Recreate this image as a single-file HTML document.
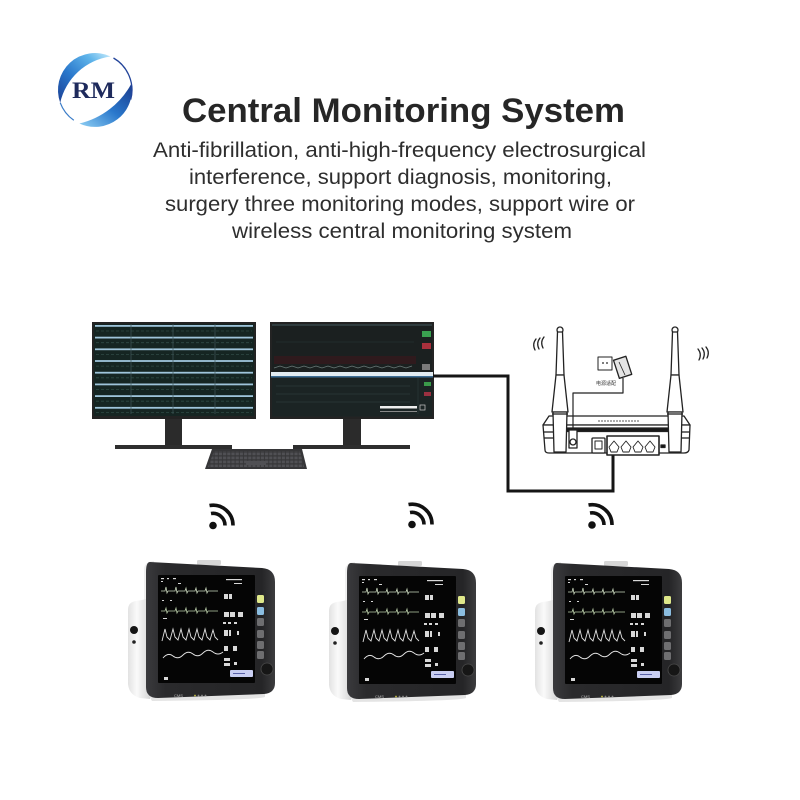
<!DOCTYPE html>
<html><head><meta charset="utf-8"><style>
html,body{margin:0;padding:0;background:#fff;}
svg{display:block;}
</style></head><body>
<svg width="800" height="800" viewBox="0 0 800 800" xmlns="http://www.w3.org/2000/svg">
<defs>
 <linearGradient id="lg1" x1="0" y1="1" x2="1" y2="0">
  <stop offset="0" stop-color="#1b3f94"/><stop offset="0.4" stop-color="#2a78cc"/><stop offset="0.75" stop-color="#5fb4ea"/><stop offset="1" stop-color="#c8ecfc"/>
 </linearGradient>
 <linearGradient id="lg2" x1="1" y1="0" x2="0" y2="1">
  <stop offset="0" stop-color="#1a3b8c"/><stop offset="0.5" stop-color="#2a78cc"/><stop offset="1" stop-color="#8fd0f4"/>
 </linearGradient>
 <linearGradient id="bez" x1="0" y1="0" x2="1" y2="0">
  <stop offset="0" stop-color="#3a3a3d"/><stop offset="0.15" stop-color="#2a2a2c"/><stop offset="0.9" stop-color="#252527"/><stop offset="1" stop-color="#3c3c3e"/>
 </linearGradient>
 <linearGradient id="side" x1="0" y1="0" x2="1" y2="0">
  <stop offset="0" stop-color="#e2e2e2"/><stop offset="0.4" stop-color="#fafafa"/><stop offset="1" stop-color="#d6d6d6"/>
 </linearGradient>
 <pattern id="keys" width="4.2" height="4" patternUnits="userSpaceOnUse">
  <rect x="0.4" y="0.5" width="3.2" height="2.8" fill="#505054"/>
 </pattern>
</defs>

<!-- Logo -->
<path d="M60.2,102.7 A37,37 0 0,1 110.6,56.5 A60,60 0 0,0 60.2,102.7 Z" fill="url(#lg1)"/>
<path d="M131.4,83.6 A37,37 0 0,1 79.4,123.5 A80,80 0 0,0 131.4,83.6 Z" fill="url(#lg2)"/>
<path d="M113.5,58 A37,37 0 0,1 130.7,99.6" fill="none" stroke="#23449a" stroke-width="1.3"/>
<path d="M60.2,102.7 A37,37 0 0,0 73.8,120.3" fill="none" stroke="#3a7cc8" stroke-width="1.2"/>
<text x="93.5" y="98" text-anchor="middle" font-family="Liberation Serif, serif" font-weight="bold" font-size="23" fill="#1e2a5c" textLength="43" lengthAdjust="spacingAndGlyphs">RM</text>

<!-- Title -->
<text x="403.5" y="122" text-anchor="middle" font-family="Liberation Sans, sans-serif" font-weight="bold" font-size="34" fill="#262626" textLength="443" lengthAdjust="spacingAndGlyphs">Central Monitoring System</text>
<g font-family="Liberation Sans, sans-serif" font-size="21.5" fill="#2e2e2e" text-anchor="middle">
 <text x="399.5" y="157" textLength="493" lengthAdjust="spacingAndGlyphs">Anti-fibrillation, anti-high-frequency electrosurgical</text>
 <text x="400.5" y="184" textLength="423" lengthAdjust="spacingAndGlyphs">interference, support diagnosis, monitoring,</text>
 <text x="400" y="211" textLength="470" lengthAdjust="spacingAndGlyphs">surgery three monitoring modes, support wire or</text>
 <text x="402" y="238" textLength="340" lengthAdjust="spacingAndGlyphs">wireless central monitoring system</text>
</g>

<!-- Left computer monitor -->
<rect x="165" y="416" width="17" height="30" fill="#2b2b2b"/>
<rect x="115" y="445" width="117" height="4" fill="#2e2e2e"/>
<rect x="92" y="322" width="164" height="97" fill="#232323"/>
<rect x="94" y="324" width="160" height="92" fill="#152522"/>
<g>
 <rect x="95" y="325" width="158" height="1.8" fill="#9ec4da"/>
 <rect x="95" y="336.7" width="158" height="1.8" fill="#9ec4da"/>
 <rect x="95" y="348.4" width="158" height="1.8" fill="#9ec4da"/>
 <rect x="95" y="360.1" width="158" height="1.8" fill="#9ec4da"/>
 <rect x="95" y="371.8" width="158" height="1.8" fill="#9ec4da"/>
 <rect x="95" y="383.5" width="158" height="1.8" fill="#9ec4da"/>
 <rect x="95" y="395.2" width="158" height="1.8" fill="#9ec4da"/>
 <rect x="95" y="406.9" width="158" height="1.8" fill="#9ec4da"/>
 <g stroke="#2e4a44" stroke-width="0.8" stroke-dasharray="3 2">
  <line x1="96" y1="331" x2="252" y2="331"/><line x1="96" y1="342.7" x2="252" y2="342.7"/>
  <line x1="96" y1="354.4" x2="252" y2="354.4"/><line x1="96" y1="366.1" x2="252" y2="366.1"/>
  <line x1="96" y1="377.8" x2="252" y2="377.8"/><line x1="96" y1="389.5" x2="252" y2="389.5"/>
  <line x1="96" y1="401.2" x2="252" y2="401.2"/><line x1="96" y1="412.5" x2="252" y2="412.5"/>
 </g>
 <g stroke="#40585a" stroke-width="0.7">
  <line x1="131" y1="324" x2="131" y2="414"/><line x1="173" y1="324" x2="173" y2="414"/><line x1="215" y1="324" x2="215" y2="414"/>
 </g>
</g>

<!-- Right computer monitor -->
<rect x="343" y="416" width="18" height="30" fill="#2b2b2b"/>
<rect x="293" y="445" width="117" height="4" fill="#2e2e2e"/>
<rect x="270" y="322" width="164" height="97" fill="#232323"/>
<rect x="272" y="324" width="160" height="48" fill="#1b2020"/>
<rect x="272" y="324" width="160" height="2" fill="#2f3c3e"/>
<rect x="274" y="356" width="142" height="8" fill="#2f1a1d"/>
<polyline points="274,368 280,366 286,368 292,366 298,368 304,366 310,368 316,366 322,368 328,366 334,368 340,366 346,368 352,366 358,368 364,366 370,368 376,366 382,368 388,366 394,368 400,366 406,368 412,366" fill="none" stroke="#6b7a78" stroke-width="0.8"/>
<line x1="276" y1="342" x2="414" y2="342" stroke="#263030" stroke-width="0.7"/>
<rect x="422" y="331" width="9" height="6" fill="#3aa050"/>
<rect x="422" y="343" width="9" height="6" fill="#a8303c"/>
<rect x="422" y="364" width="8" height="6" fill="#7a7a7a"/>
<rect x="271" y="372" width="162" height="4" fill="#e2ecf2"/>
<rect x="271" y="376" width="162" height="1.5" fill="#3d6e96"/>
<rect x="272" y="377.5" width="160" height="39" fill="#1b2424"/>
<g stroke="#2c3a3a" stroke-width="0.7">
 <line x1="276" y1="386" x2="410" y2="386"/><line x1="276" y1="394" x2="410" y2="394"/><line x1="276" y1="402" x2="410" y2="402"/>
 <line x1="418" y1="378" x2="418" y2="414"/>
</g>
<rect x="424" y="382" width="7" height="4" fill="#3a9a4a"/>
<rect x="424" y="392" width="7" height="4" fill="#9a3040"/>
<rect x="380" y="406" width="37" height="2.5" fill="#eeeeee"/>
<rect x="380" y="411" width="37" height="1" fill="#888"/>
<rect x="420" y="405" width="5" height="5" fill="none" stroke="#ccc" stroke-width="0.7"/>

<!-- Keyboard -->
<polygon points="212,449 302,449 307,469 205,469" fill="#363638"/>
<polygon points="214,451 300,451 304,467 208,467" fill="url(#keys)"/>
<rect x="246" y="461" width="20" height="4" fill="#505054"/>

<!-- Cable -->
<polyline points="433,376 508,376 508,491 613,491 613,453" fill="none" stroke="#151515" stroke-width="3"/>

<!-- Router -->
<g stroke="#222" stroke-width="1.3" fill="#fff" stroke-linejoin="round">
 <polygon points="549,416 684,416 690,425 543,425"/>
 <path d="M543,425 L690,425 L689,450 Q688,453 684,453 L549,453 Q545,453 545,450 Z"/>
 <line x1="543" y1="432" x2="553" y2="432"/><line x1="680" y1="432" x2="690" y2="432"/>
 <line x1="544" y1="438" x2="553" y2="438"/><line x1="680" y1="438" x2="689" y2="438"/>
 <rect x="565" y="428" width="106" height="3.5" fill="#1a1a1a"/>
 <line x1="598" y1="421" x2="640" y2="421" stroke-width="0.8" stroke-dasharray="2 1"/>
 <rect x="592" y="438" width="13" height="15" rx="1"/>
 <rect x="595" y="441" width="7" height="8" stroke-width="1"/>
 <rect x="607" y="436" width="52" height="19" stroke-width="1.6"/>
 <path d="M609,447 L614,441 L619,447 L617,452 L611,452 Z" stroke-width="0.9"/>
 <path d="M621,447 L626,441 L631,447 L629,452 L623,452 Z" stroke-width="0.9"/>
 <path d="M633,447 L638,441 L643,447 L641,452 L635,452 Z" stroke-width="0.9"/>
 <path d="M645,447 L650,441 L655,447 L653,452 L647,452 Z" stroke-width="0.9"/>
 <rect x="569" y="430" width="8" height="18"/>
 <circle cx="573" cy="442" r="3"/>
 <rect x="661" y="445" width="4" height="2.5" fill="#111"/>
 <!-- antennas -->
 <ellipse cx="560" cy="330" rx="3" ry="3"/>
 <polygon points="557.5,332 562.5,332 564,375 556,375"/>
 <polygon points="556,375 564,375 568,412 552,412"/>
 <polygon points="553,412 567,412 566,452 554,452"/>
 <line x1="552" y1="414" x2="568" y2="414"/>
 <ellipse cx="675" cy="330" rx="3" ry="3"/>
 <polygon points="672.5,332 677.5,332 679,375 671,375"/>
 <polygon points="671,375 679,375 683,412 667,412"/>
 <polygon points="668,412 682,412 681,452 669,452"/>
 <line x1="667" y1="414" x2="683" y2="414"/>
 <!-- power -->
 <polyline points="623,378 623,393 573,393 573,430" fill="none" stroke-width="1.2"/>
 <rect x="598" y="357" width="14" height="13" stroke-width="1"/>
 <rect x="616" y="358" width="13" height="19" fill="#e4e4e4" transform="rotate(-18 622 367)"/>
 <line x1="619" y1="362" x2="625" y2="375" stroke-width="0.8"/>
</g>
<circle cx="603" cy="363" r="0.9" fill="#222"/><circle cx="607" cy="363" r="0.9" fill="#222"/>
<text x="596" y="385" font-family="Liberation Sans, Noto Sans CJK SC, sans-serif" font-size="5" fill="#333">电源适配</text>
<g fill="none" stroke="#222" stroke-width="1.3" stroke-linecap="round">
 <path d="M536,339 Q532,344 535,350"/><path d="M540,338 Q536,343 539,349"/><path d="M544,337 Q540,342 543,348"/>
 <path d="M698,349 Q702,354 699,360"/><path d="M702,348 Q706,353 703,359"/><path d="M706,347 Q710,352 707,358"/>
</g>

<!-- Wifi icons -->
<g fill="none" stroke="#111" stroke-width="3.6" stroke-linecap="butt">
 <path d="M211,513.5 A12,12 0 0,1 225,525.5"/><path d="M209.5,505.5 A20,20 0 0,1 233,525.5"/>
 <path d="M410,512.5 A12,12 0 0,1 424,524.5"/><path d="M408.5,504.5 A20,20 0 0,1 432,524.5"/>
 <path d="M590,513 A12,12 0 0,1 604,525"/><path d="M588.5,505 A20,20 0 0,1 612,525"/>
</g>
<circle cx="213" cy="525.5" r="3.8" fill="#111"/>
<circle cx="412" cy="524.5" r="3.8" fill="#111"/>
<circle cx="592" cy="525" r="3.8" fill="#111"/>

<!-- Patient monitor 1 -->
<g transform="translate(128,560)">
 <path d="M16,8 Q18,1 26,1 L26,40 L16,40 Z" fill="#efefef"/>
 <path d="M14,40 L22,38 L22,139 L12,138 Q1,135 0,124 L0,50 Q0,42 8,41 Z" fill="url(#side)"/>
 <path d="M20,134 L137,132 L137,137 Q130,140 24,141 Z" fill="#e4e4e4"/>
 <rect x="69" y="0" width="24" height="5" rx="1.5" fill="#d6d6d6"/>
 <path d="M22,2 L134,8 Q147,9 147,22 L147,123 Q147,133 136,134 L30,138 Q18,138 18,127 L18,12 Q18,2 22,2 Z" fill="url(#bez)"/>
 <rect x="30" y="15" width="97" height="108" rx="1" fill="#050505"/>
 <g fill="#d8d8d8">
  <rect x="33" y="18" width="3" height="1.2"/><rect x="39" y="18" width="2" height="1.2"/><rect x="45" y="18" width="3" height="1.2"/>
  <rect x="33" y="21" width="2" height="1"/><rect x="50" y="23" width="3" height="1"/>
  <rect x="98" y="19" width="16" height="1.2"/><rect x="106" y="23" width="8" height="1"/>
  <rect x="96" y="34" width="4" height="5"/><rect x="101" y="34" width="3" height="5"/>
  <rect x="34" y="40" width="2" height="1"/><rect x="42" y="40" width="2" height="1"/>
  <rect x="96" y="52" width="5" height="5"/><rect x="102" y="52" width="5" height="5"/><rect x="110" y="52" width="5" height="5"/>
  <rect x="95" y="62" width="3" height="2"/><rect x="100" y="62" width="3" height="2"/><rect x="106" y="62" width="3" height="2"/>
  <rect x="96" y="70" width="4" height="6"/><rect x="101" y="70" width="2" height="6"/><rect x="109" y="71" width="2" height="4"/>
  <rect x="96" y="86" width="4" height="5"/><rect x="105" y="86" width="4" height="5"/>
  <rect x="96" y="98" width="6" height="3"/><rect x="96" y="103" width="6" height="3"/><rect x="106" y="102" width="3" height="3"/>
  <rect x="35" y="58" width="4" height="1"/><rect x="36" y="117" width="4" height="3"/>
 </g>
 <g fill="none" stroke-width="0.8">
  <path d="M33,31 L37,31 L38,27 L39,33 L40,31 L47,31 L48,27 L49,33 L50,31 L57,31 L58,28 L59,33 L60,31 L67,31 L68,28 L69,33 L70,31 L77,31 L78,28 L79,33 L80,31 L90,31" stroke="#c8d6bc"/>
  <path d="M33,51 L37,51 L38,48 L39,53 L40,51 L47,51 L48,48 L49,53 L50,51 L57,51 L58,48 L59,53 L60,51 L67,51 L68,48 L69,53 L70,51 L77,51 L78,48 L79,53 L80,51 L90,51" stroke="#b8cca8"/>
  <path d="M34,81 L37,69 L39,77 L42,80 L45,69 L47,77 L50,80 L53,69 L55,77 L58,80 L61,69 L63,77 L66,80 L69,69 L71,77 L74,80 L77,69 L79,77 L82,80 L85,70 L87,77 L90,80" stroke="#e0e0e0" stroke-width="0.9"/>
  <path d="M35,98 Q40,92 45,96 T55,95 T65,94 T75,93 T85,92 T95,92" stroke="#e6e6e6" stroke-width="0.9"/>
 </g>
 <rect x="102" y="110" width="23" height="7" rx="1" fill="#c9cef2"/>
 <rect x="105" y="113" width="12" height="1" fill="#5a62a8"/>
 <rect x="129" y="35" width="7" height="8" rx="1.5" fill="#dfe88a"/>
 <rect x="129" y="47" width="7" height="8" rx="1.5" fill="#8bbde0"/>
 <rect x="129" y="58" width="7" height="8" rx="1.5" fill="#6e6e70"/>
 <rect x="129" y="70" width="7" height="8" rx="1.5" fill="#6e6e70"/>
 <rect x="129" y="81" width="7" height="8" rx="1.5" fill="#6e6e70"/>
 <rect x="129" y="91" width="7" height="8" rx="1.5" fill="#6e6e70"/>
 <circle cx="139" cy="109" r="6" fill="#161616" stroke="#4a4a4a" stroke-width="0.8"/>
 <circle cx="6" cy="70" r="4" fill="#151515"/>
 <circle cx="6" cy="82" r="1.8" fill="#222"/>
 <text x="46" y="137" font-family="Liberation Sans, sans-serif" font-size="4" fill="#bbb">CMS</text>
 <circle cx="67" cy="135.5" r="0.9" fill="#c8c040"/><circle cx="70.5" cy="135.5" r="0.9" fill="#888"/><circle cx="74" cy="135.5" r="0.9" fill="#888"/><circle cx="77.5" cy="135.5" r="0.9" fill="#888"/>
</g>

<!-- Patient monitor 2 -->
<g transform="translate(329,561)">
 <path d="M16,8 Q18,1 26,1 L26,40 L16,40 Z" fill="#efefef"/>
 <path d="M14,40 L22,38 L22,139 L12,138 Q1,135 0,124 L0,50 Q0,42 8,41 Z" fill="url(#side)"/>
 <path d="M20,134 L137,132 L137,137 Q130,140 24,141 Z" fill="#e4e4e4"/>
 <rect x="69" y="0" width="24" height="5" rx="1.5" fill="#d6d6d6"/>
 <path d="M22,2 L134,8 Q147,9 147,22 L147,123 Q147,133 136,134 L30,138 Q18,138 18,127 L18,12 Q18,2 22,2 Z" fill="url(#bez)"/>
 <rect x="30" y="15" width="97" height="108" rx="1" fill="#050505"/>
 <g fill="#d8d8d8">
  <rect x="33" y="18" width="3" height="1.2"/><rect x="39" y="18" width="2" height="1.2"/><rect x="45" y="18" width="3" height="1.2"/>
  <rect x="33" y="21" width="2" height="1"/><rect x="50" y="23" width="3" height="1"/>
  <rect x="98" y="19" width="16" height="1.2"/><rect x="106" y="23" width="8" height="1"/>
  <rect x="96" y="34" width="4" height="5"/><rect x="101" y="34" width="3" height="5"/>
  <rect x="34" y="40" width="2" height="1"/><rect x="42" y="40" width="2" height="1"/>
  <rect x="96" y="52" width="5" height="5"/><rect x="102" y="52" width="5" height="5"/><rect x="110" y="52" width="5" height="5"/>
  <rect x="95" y="62" width="3" height="2"/><rect x="100" y="62" width="3" height="2"/><rect x="106" y="62" width="3" height="2"/>
  <rect x="96" y="70" width="4" height="6"/><rect x="101" y="70" width="2" height="6"/><rect x="109" y="71" width="2" height="4"/>
  <rect x="96" y="86" width="4" height="5"/><rect x="105" y="86" width="4" height="5"/>
  <rect x="96" y="98" width="6" height="3"/><rect x="96" y="103" width="6" height="3"/><rect x="106" y="102" width="3" height="3"/>
  <rect x="35" y="58" width="4" height="1"/><rect x="36" y="117" width="4" height="3"/>
 </g>
 <g fill="none" stroke-width="0.8">
  <path d="M33,31 L37,31 L38,27 L39,33 L40,31 L47,31 L48,27 L49,33 L50,31 L57,31 L58,28 L59,33 L60,31 L67,31 L68,28 L69,33 L70,31 L77,31 L78,28 L79,33 L80,31 L90,31" stroke="#c8d6bc"/>
  <path d="M33,51 L37,51 L38,48 L39,53 L40,51 L47,51 L48,48 L49,53 L50,51 L57,51 L58,48 L59,53 L60,51 L67,51 L68,48 L69,53 L70,51 L77,51 L78,48 L79,53 L80,51 L90,51" stroke="#b8cca8"/>
  <path d="M34,81 L37,69 L39,77 L42,80 L45,69 L47,77 L50,80 L53,69 L55,77 L58,80 L61,69 L63,77 L66,80 L69,69 L71,77 L74,80 L77,69 L79,77 L82,80 L85,70 L87,77 L90,80" stroke="#e0e0e0" stroke-width="0.9"/>
  <path d="M35,98 Q40,92 45,96 T55,95 T65,94 T75,93 T85,92 T95,92" stroke="#e6e6e6" stroke-width="0.9"/>
 </g>
 <rect x="102" y="110" width="23" height="7" rx="1" fill="#c9cef2"/>
 <rect x="105" y="113" width="12" height="1" fill="#5a62a8"/>
 <rect x="129" y="35" width="7" height="8" rx="1.5" fill="#dfe88a"/>
 <rect x="129" y="47" width="7" height="8" rx="1.5" fill="#8bbde0"/>
 <rect x="129" y="58" width="7" height="8" rx="1.5" fill="#6e6e70"/>
 <rect x="129" y="70" width="7" height="8" rx="1.5" fill="#6e6e70"/>
 <rect x="129" y="81" width="7" height="8" rx="1.5" fill="#6e6e70"/>
 <rect x="129" y="91" width="7" height="8" rx="1.5" fill="#6e6e70"/>
 <circle cx="139" cy="109" r="6" fill="#161616" stroke="#4a4a4a" stroke-width="0.8"/>
 <circle cx="6" cy="70" r="4" fill="#151515"/>
 <circle cx="6" cy="82" r="1.8" fill="#222"/>
 <text x="46" y="137" font-family="Liberation Sans, sans-serif" font-size="4" fill="#bbb">CMS</text>
 <circle cx="67" cy="135.5" r="0.9" fill="#c8c040"/><circle cx="70.5" cy="135.5" r="0.9" fill="#888"/><circle cx="74" cy="135.5" r="0.9" fill="#888"/><circle cx="77.5" cy="135.5" r="0.9" fill="#888"/>
</g>

<!-- Patient monitor 3 -->
<g transform="translate(535,561)">
 <path d="M16,8 Q18,1 26,1 L26,40 L16,40 Z" fill="#efefef"/>
 <path d="M14,40 L22,38 L22,139 L12,138 Q1,135 0,124 L0,50 Q0,42 8,41 Z" fill="url(#side)"/>
 <path d="M20,134 L137,132 L137,137 Q130,140 24,141 Z" fill="#e4e4e4"/>
 <rect x="69" y="0" width="24" height="5" rx="1.5" fill="#d6d6d6"/>
 <path d="M22,2 L134,8 Q147,9 147,22 L147,123 Q147,133 136,134 L30,138 Q18,138 18,127 L18,12 Q18,2 22,2 Z" fill="url(#bez)"/>
 <rect x="30" y="15" width="97" height="108" rx="1" fill="#050505"/>
 <g fill="#d8d8d8">
  <rect x="33" y="18" width="3" height="1.2"/><rect x="39" y="18" width="2" height="1.2"/><rect x="45" y="18" width="3" height="1.2"/>
  <rect x="33" y="21" width="2" height="1"/><rect x="50" y="23" width="3" height="1"/>
  <rect x="98" y="19" width="16" height="1.2"/><rect x="106" y="23" width="8" height="1"/>
  <rect x="96" y="34" width="4" height="5"/><rect x="101" y="34" width="3" height="5"/>
  <rect x="34" y="40" width="2" height="1"/><rect x="42" y="40" width="2" height="1"/>
  <rect x="96" y="52" width="5" height="5"/><rect x="102" y="52" width="5" height="5"/><rect x="110" y="52" width="5" height="5"/>
  <rect x="95" y="62" width="3" height="2"/><rect x="100" y="62" width="3" height="2"/><rect x="106" y="62" width="3" height="2"/>
  <rect x="96" y="70" width="4" height="6"/><rect x="101" y="70" width="2" height="6"/><rect x="109" y="71" width="2" height="4"/>
  <rect x="96" y="86" width="4" height="5"/><rect x="105" y="86" width="4" height="5"/>
  <rect x="96" y="98" width="6" height="3"/><rect x="96" y="103" width="6" height="3"/><rect x="106" y="102" width="3" height="3"/>
  <rect x="35" y="58" width="4" height="1"/><rect x="36" y="117" width="4" height="3"/>
 </g>
 <g fill="none" stroke-width="0.8">
  <path d="M33,31 L37,31 L38,27 L39,33 L40,31 L47,31 L48,27 L49,33 L50,31 L57,31 L58,28 L59,33 L60,31 L67,31 L68,28 L69,33 L70,31 L77,31 L78,28 L79,33 L80,31 L90,31" stroke="#c8d6bc"/>
  <path d="M33,51 L37,51 L38,48 L39,53 L40,51 L47,51 L48,48 L49,53 L50,51 L57,51 L58,48 L59,53 L60,51 L67,51 L68,48 L69,53 L70,51 L77,51 L78,48 L79,53 L80,51 L90,51" stroke="#b8cca8"/>
  <path d="M34,81 L37,69 L39,77 L42,80 L45,69 L47,77 L50,80 L53,69 L55,77 L58,80 L61,69 L63,77 L66,80 L69,69 L71,77 L74,80 L77,69 L79,77 L82,80 L85,70 L87,77 L90,80" stroke="#e0e0e0" stroke-width="0.9"/>
  <path d="M35,98 Q40,92 45,96 T55,95 T65,94 T75,93 T85,92 T95,92" stroke="#e6e6e6" stroke-width="0.9"/>
 </g>
 <rect x="102" y="110" width="23" height="7" rx="1" fill="#c9cef2"/>
 <rect x="105" y="113" width="12" height="1" fill="#5a62a8"/>
 <rect x="129" y="35" width="7" height="8" rx="1.5" fill="#dfe88a"/>
 <rect x="129" y="47" width="7" height="8" rx="1.5" fill="#8bbde0"/>
 <rect x="129" y="58" width="7" height="8" rx="1.5" fill="#6e6e70"/>
 <rect x="129" y="70" width="7" height="8" rx="1.5" fill="#6e6e70"/>
 <rect x="129" y="81" width="7" height="8" rx="1.5" fill="#6e6e70"/>
 <rect x="129" y="91" width="7" height="8" rx="1.5" fill="#6e6e70"/>
 <circle cx="139" cy="109" r="6" fill="#161616" stroke="#4a4a4a" stroke-width="0.8"/>
 <circle cx="6" cy="70" r="4" fill="#151515"/>
 <circle cx="6" cy="82" r="1.8" fill="#222"/>
 <text x="46" y="137" font-family="Liberation Sans, sans-serif" font-size="4" fill="#bbb">CMS</text>
 <circle cx="67" cy="135.5" r="0.9" fill="#c8c040"/><circle cx="70.5" cy="135.5" r="0.9" fill="#888"/><circle cx="74" cy="135.5" r="0.9" fill="#888"/><circle cx="77.5" cy="135.5" r="0.9" fill="#888"/>
</g>
</svg>
</body></html>
